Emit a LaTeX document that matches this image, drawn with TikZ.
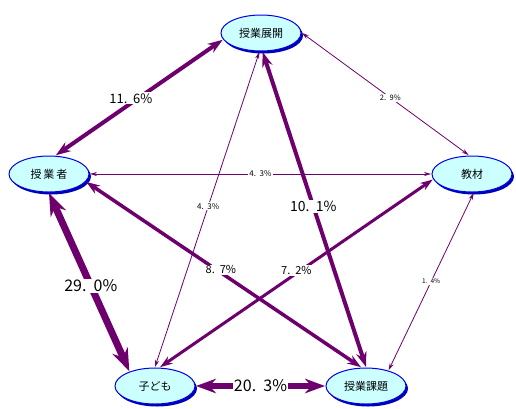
\documentclass[tikz,border=0pt]{standalone}
\usepackage{fontspec}
\setmainfont{Noto Sans CJK JP}
\usetikzlibrary{arrows.meta, shapes.geometric, shadows}
\usepackage{xcolor}
\definecolor{linkPurple}{RGB}{110,0,110}
\definecolor{nodeFill}{RGB}{204,255,255}
\definecolor{nodeBlue}{RGB}{0,0,230}
\definecolor{nodeShadow}{RGB}{0,0,180}
\newcommand{\pctdot}{.\hspace{.45em}}
\tikzset{
    >={Stealth[length=5pt 2.5, width=2.5pt 2]},
    % Nodes
    topic/.style={ellipse, draw=nodeBlue, fill=nodeFill, line width=1pt,
                  minimum width=80pt, minimum height=36pt, inner sep=0pt, outer sep=1pt,
                  font=\fontsize{11}{13}\selectfont,
                  drop shadow={shadow xshift=2pt, shadow yshift=-2.5pt, fill=nodeShadow, opacity=1}},
    % Links & labels
    link/.style={<->, draw=linkPurple},
    pct/.style={fill=white, inner sep=1pt, text=black, font=\fontsize{#1}{#1}\selectfont}
}

\begin{document}
\begin{tikzpicture}[x=1pt, y=-1pt]
\useasboundingbox (0,0) rectangle (516,408);

\node[topic] (develop) at (261,33) {授業展開};
\node[topic] (teacher) at (49,174) {授\,業\,者};
\node[topic] (material) at (472,174) {教材};
\node[topic] (child) at (155,386) {子ども};
\node[topic] (task) at (366,386) {授業課題};

\draw[link, line width=0.8pt] (teacher.east) -- node[pct=8, pos=.5] {4\pctdot 3\%} (material.west);
\draw[link, line width=0.8pt] (develop.0) -- node[pct=7.5, pos=.53] {2\pctdot 9\%} (material.100);
\draw[link, line width=0.8pt] (develop.265) -- node[pct=8, pos=.49] {4\pctdot 3\%} (child.north);
\draw[link, line width=0.8pt] (material.-85) -- node[pct=6.5, pos=.5] {1\pctdot 4\%} (task.35);
\draw[link, line width=3.5pt] (teacher.-12) -- node[pct=11, pos=.49, yshift=3pt] {8\pctdot 7\%} (task.105);
\draw[link, line width=3pt] (material.188) -- node[pct=11, pos=.5, yshift=3pt] {7\pctdot 2\%} (child.75);
\draw[link, line width=4pt] (develop.275) -- node[pct=14, pos=.49] {10\pctdot 1\%} (task.north);
\draw[link, line width=4pt] (teacher.70) -- node[pct=13, pos=.45, yshift=5pt] {11\pctdot 6\%} (develop.190);
\draw[link, line width=7pt] (teacher.south) -- node[pct=16, pos=.52] {29\pctdot 0\%} (child.150);
\draw[link, line width=6pt] (child.east) -- node[pct=16, pos=.5] {20\pctdot 3\%} (task.west);

\end{tikzpicture}
\end{document}
